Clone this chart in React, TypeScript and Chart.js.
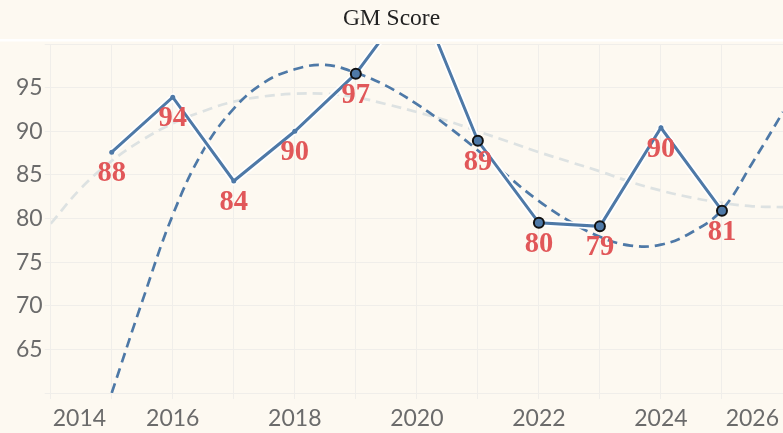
import React, { useEffect, useRef } from 'react';
import { Chart, registerables } from 'chart.js';

Chart.register(...registerables);

// main series
const years = [2015, 2016, 2017, 2018, 2019, 2020, 2021, 2022, 2023, 2024, 2025];
const scores = [87.6, 93.9, 84.3, 90.0, 96.6, 106.0, 88.9, 79.5, 79.1, 90.4, 80.9];
const marked = [false, false, false, false, true, true, true, true, true, false, true];

// dark dashed trend
const trendYears = [
  2015, 2015.5, 2016, 2016.5, 2017, 2017.5, 2018, 2018.5, 2019, 2019.5, 2020, 2020.5,
  2021, 2021.5, 2022, 2022.5, 2023, 2023.5, 2024, 2024.5, 2025, 2025.5, 2026,
];
const trendValues = [
  60.0, 70.5, 80.4, 87.8, 92.6, 95.6, 97.1, 97.6, 96.7, 95.2, 93.1, 90.6,
  87.8, 84.8, 82.0, 79.7, 77.9, 76.9, 77.0, 78.4, 81.0, 86.4, 92.2,
];

// light dashed smooth
const smoothYears = [
  2014, 2014.5, 2015, 2015.5, 2016, 2016.5, 2017, 2017.5, 2018, 2018.5, 2019, 2019.5,
  2020, 2020.5, 2021, 2021.5, 2022, 2022.5, 2023, 2023.5, 2024, 2024.5, 2025, 2025.5, 2026,
];
const smoothValues = [
  79.4, 83.5, 86.6, 89.0, 90.9, 92.3, 93.4, 94.0, 94.3, 94.3, 93.9, 93.1,
  92.2, 91.2, 90.0, 88.8, 87.6, 86.5, 85.4, 84.2, 83.2, 82.4, 81.8, 81.4, 81.3,
];

const xLabels = [2014, 2016, 2018, 2020, 2022, 2024, 2026];

const BG = '#fdf9f1';
const BLUE = '#4e79a7';
const GRID = '#f0eeea';
const TICK_FONT = 'Lato, "Open Sans", sans-serif';

const frame = {
  id: 'frame',
  beforeDraw(chart: any) {
    const { ctx, width } = chart;
    ctx.save();
    ctx.fillStyle = BG;
    ctx.fillRect(0, 0, width, chart.height);
    ctx.fillStyle = '#ffffff';
    ctx.fillRect(0, 39, width, 2.5);
    ctx.fillStyle = '#222';
    ctx.font = '23.5px "Liberation Serif", "Times New Roman", serif';
    ctx.textAlign = 'center';
    ctx.textBaseline = 'alphabetic';
    ctx.fillText('GM Score', width / 2, 25);
    ctx.restore();
  },
  afterDraw(chart: any) {
    const { ctx, chartArea } = chart;
    const x = chart.scales.x;
    ctx.save();
    ctx.font = `23px ${TICK_FONT}`;
    ctx.fillStyle = '#6b6b6b';
    ctx.textAlign = 'center';
    ctx.textBaseline = 'alphabetic';
    xLabels.forEach((yr) => {
      const text = String(yr);
      const w = ctx.measureText(text).width;
      let px = x.getPixelForValue(yr);
      px = Math.max(chartArea.left + w / 2 + 2, Math.min(chartArea.right - w / 2 - 4, px));
      ctx.fillText(text, px, 426);
    });
    ctx.restore();
  },
};

const valueLabels = {
  id: 'valueLabels',
  afterDatasetsDraw(chart: any) {
    const { ctx, chartArea } = chart;
    const meta = chart.getDatasetMeta(0);
    ctx.save();
    ctx.font = 'bold 28.5px "Liberation Serif", "Times New Roman", serif';
    ctx.fillStyle = '#e15759';
    ctx.textAlign = 'center';
    ctx.textBaseline = 'alphabetic';
    meta.data.forEach((pt: any, i: number) => {
      if (pt.y < chartArea.top || pt.y > chartArea.bottom) return;
      ctx.fillText(String(Math.round(scores[i])), pt.x, pt.y + 29);
    });
    ctx.restore();
  },
};

function ScoreChart() {
  const ref = useRef<HTMLCanvasElement>(null);

  useEffect(() => {
    document.body.style.margin = '0';
    const main = years.map((x, i) => ({ x, y: scores[i] }));

    const chart = new Chart(ref.current!, {
      type: 'line',
      data: {
        datasets: [
          {
            data: main,
            borderColor: BLUE,
            borderWidth: 3,
            pointRadius: marked.map((m) => (m ? 5 : 2.5)),
            pointBackgroundColor: BLUE,
            pointBorderColor: marked.map((m) => (m ? '#111' : BLUE)),
            pointBorderWidth: marked.map((m) => (m ? 2 : 0)),
            tension: 0,
          },
          {
            data: main,
            borderColor: '#ffffff',
            borderWidth: 6.5,
            pointRadius: 0,
            tension: 0,
          },
          {
            data: trendYears.map((x, i) => ({ x, y: trendValues[i] })),
            borderColor: BLUE,
            borderWidth: 2.7,
            borderDash: [10, 6],
            pointRadius: 0,
            tension: 0.4,
          },
          {
            data: smoothYears.map((x, i) => ({ x, y: smoothValues[i] })),
            borderColor: '#dde2e2',
            borderWidth: 2.7,
            borderDash: [10, 6],
            pointRadius: 0,
            tension: 0.4,
          },
        ],
      },
      options: {
        animation: false,
        responsive: false,
        layout: { autoPadding: false, padding: { top: 44, left: 0, right: 0, bottom: 0 } },
        plugins: {
          legend: { display: false },
          tooltip: { enabled: false },
          title: { display: false },
        },
        scales: {
          x: {
            type: 'linear',
            min: 2014,
            max: 2026,
            ticks: { stepSize: 1, display: false },
            grid: { color: GRID, tickLength: 6 },
            border: { display: false },
            afterFit: (s: any) => {
              s.height = 40;
            },
          },
          y: {
            min: 60,
            max: 100,
            ticks: {
              stepSize: 5,
              padding: 2,
              color: '#6b6b6b',
              font: { family: TICK_FONT, size: 23 },
              callback: (v: any) => (v === 60 || v === 100 ? '' : String(v)),
            },
            grid: { color: GRID, tickLength: 6 },
            border: { display: false },
            afterFit: (s: any) => {
              s.width = 50.7;
            },
          },
        },
      },
      plugins: [frame, valueLabels],
    });

    return () => {
      chart.destroy();
    };
  }, []);

  return <canvas ref={ref} width={783} height={433} />;
}

export default function App() {
  return (
    <div style={{ width: 783, height: 433, background: BG }}>
      <ScoreChart />
    </div>
  );
}
